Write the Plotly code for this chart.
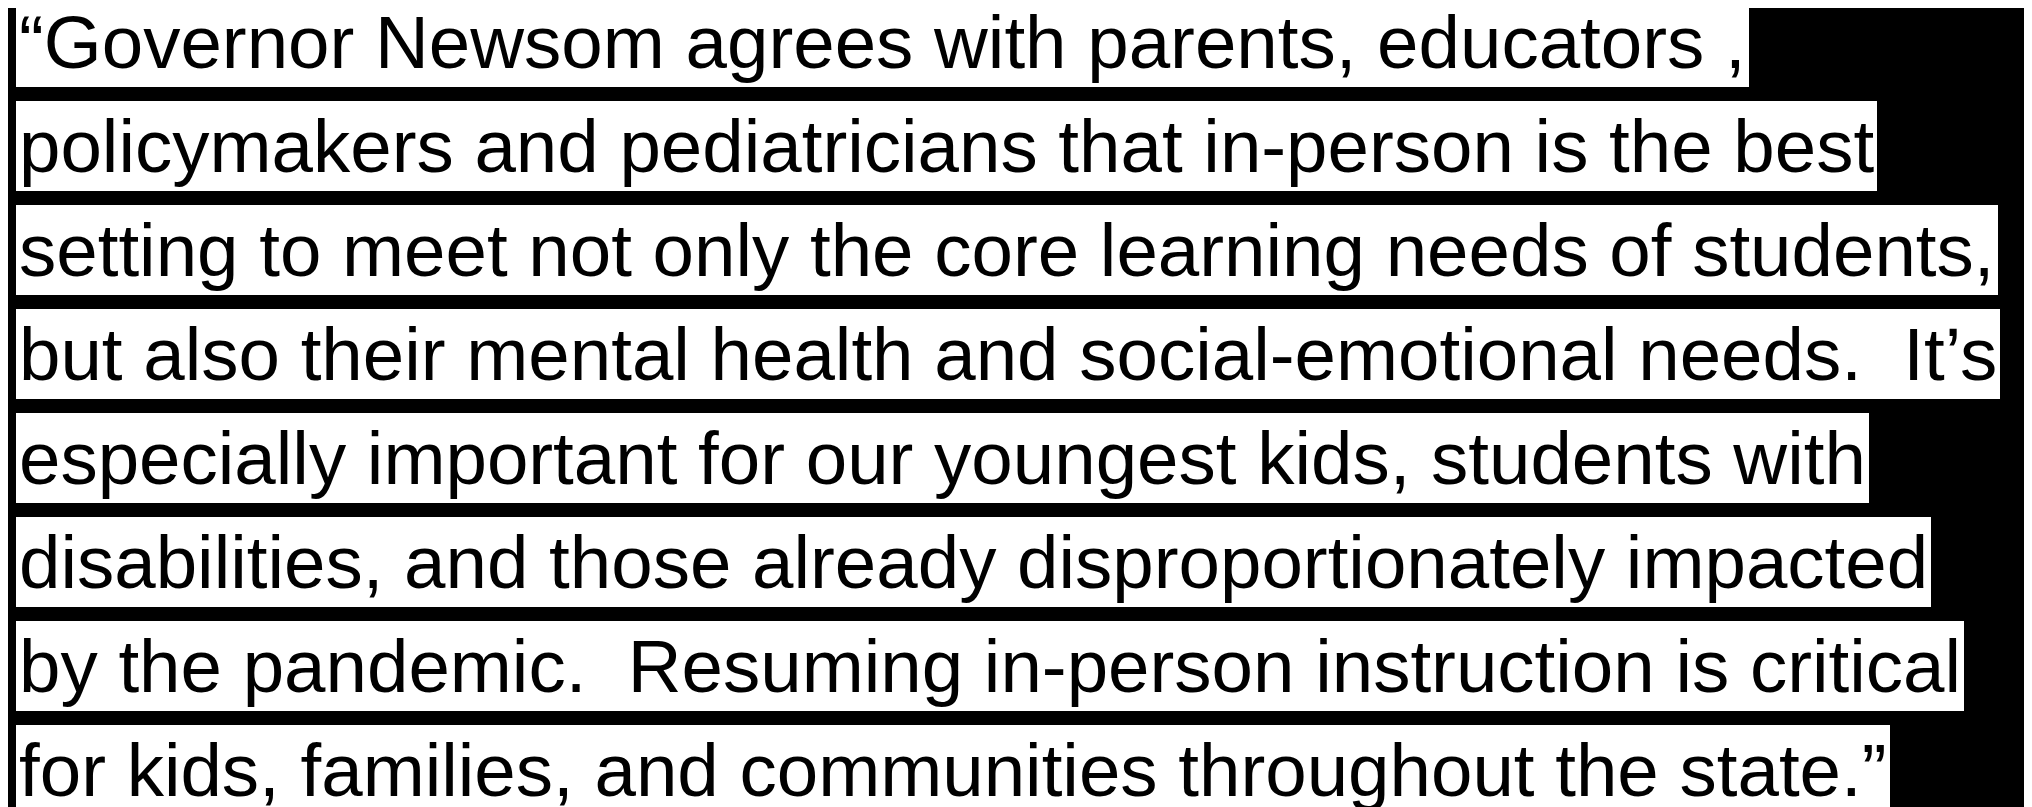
import plotly.graph_objects as go

lines = [
    "\u201cGovernor Newsom agrees with parents, educators ,",
    "policymakers and pediatricians that in-person is the best",
    "setting to meet not only the core learning needs of students,",
    "but also their mental health and social-emotional needs.\u00a0 It\u2019s",
    "especially important for our youngest kids, students with",
    "disabilities, and those already disproportionately impacted",
    "by the pandemic.\u00a0 Resuming in-person instruction is critical",
    "for kids, families, and communities throughout the state.\u201d",
]

W, H = 2032, 807
left_px = 8
first_center_px = 34
pitch_px = 104

fig = go.Figure()
annotations = []
for i, t in enumerate(lines):
    cy = first_center_px + i * pitch_px
    annotations.append(dict(
        text=t, xref="paper", yref="paper",
        x=0, y=1 - cy / H, xshift=left_px,
        xanchor="left", yanchor="middle", showarrow=False,
        font=dict(family="Liberation Sans, Arial, sans-serif", size=74.5, color="black"),
        bgcolor="white", borderpad=3, borderwidth=0, height=84,
    ))

fig.update_layout(
    width=W, height=H,
    margin=dict(l=0, r=0, t=0, b=0),
    paper_bgcolor="black", plot_bgcolor="black",
    xaxis=dict(visible=False, range=[0, 1]),
    yaxis=dict(visible=False, range=[0, 1]),
    annotations=annotations,
    showlegend=False,
)
fig.write_html("out.html")
